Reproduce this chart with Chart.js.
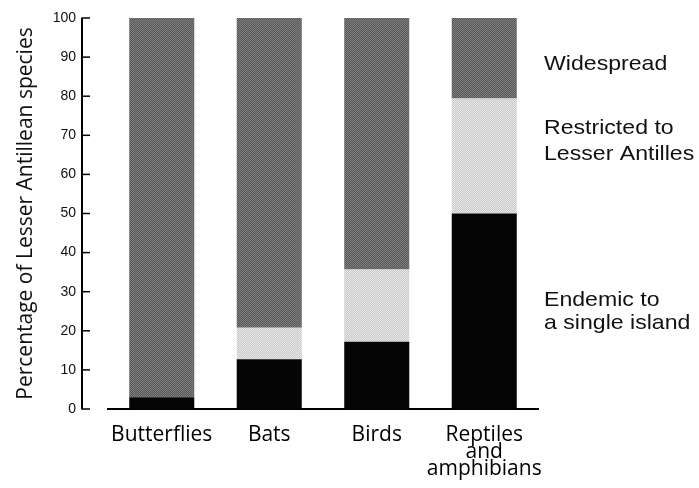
<!DOCTYPE html>
<html>
<head>
<meta charset="utf-8">
<script src="https://cdn.jsdelivr.net/npm/chart.js@4.4.1/dist/chart.umd.min.js"></script>
<style>
  html, body { margin: 0; padding: 0; background: #fff; }
  canvas { display: block; }
</style>
</head>
<body>
<canvas id="chart" width="699" height="488"></canvas>
<script>
// data (percent of species in each group)
const categories = ['Butterflies', 'Bats', 'Birds', ['Reptiles', 'and', 'amphibians']];
const endemic = [3, 12.7, 17.2, 50];
const restricted = [0, 8.1, 18.5, 29.4];
const widespread = [97, 79.2, 64.3, 20.6];
const yTicks = [0, 10, 20, 30, 40, 50, 60, 70, 80, 90, 100];
const sideLabels = [['Widespread'], ['Restricted to', 'Lesser Antilles'], ['Endemic to', 'a single island']];

const canvas = document.getElementById('chart');
const ctx = canvas.getContext('2d');

// small halftone-like pattern, like the scanned shading
function checker(base, dot) {
  const p = document.createElement('canvas');
  p.width = 2; p.height = 2;
  const g = p.getContext('2d');
  g.fillStyle = base; g.fillRect(0, 0, 2, 2);
  g.fillStyle = dot; g.fillRect(0, 0, 1, 1); g.fillRect(1, 1, 1, 1);
  return ctx.createPattern(p, 'repeat');
}

// y axis sits a bit left of the plot, with ticks pointing inwards
const yAxisLine = {
  id: 'yAxisLine',
  afterDraw(chart) {
    const c = chart.ctx;
    const y = chart.scales.y;
    const x0 = chart.chartArea.left - 26;
    c.save();
    c.strokeStyle = '#000';
    c.lineWidth = 2;
    c.beginPath();
    c.moveTo(x0, y.getPixelForValue(100) - 0.5);
    c.lineTo(x0, y.getPixelForValue(0) + 0.5);
    c.stroke();
    c.lineWidth = 1.5;
    yTicks.forEach(v => {
      const py = y.getPixelForValue(v);
      c.beginPath();
      c.moveTo(x0, py);
      c.lineTo(x0 + 8, py);
      c.stroke();
    });
    c.restore();
  }
};

// category names to the right of the last bar
const sideText = {
  id: 'sideText',
  afterDraw(chart) {
    const c = chart.ctx;
    const y = chart.scales.y;
    const anchors = [88.7, 68.9, 25.3];
    const gaps = [0, 26, 22.5];
    const x0 = chart.chartArea.right + 6;
    c.save();
    c.fillStyle = '#111';
    c.font = '21px "Liberation Sans", Arial, sans-serif';
    c.textBaseline = 'alphabetic';
    sideLabels.forEach((lines, i) => {
      const mid = y.getPixelForValue(anchors[i]);
      const first = mid - gaps[i] * (lines.length - 1) / 2 + 7.5;
      lines.forEach((t, j) => {
        c.save();
        c.translate(x0, first + j * gaps[i]);
        c.scale(1.1, 1);
        c.fillText(t, 0, 0);
        c.restore();
      });
    });
    c.restore();
  }
};

new Chart(ctx, {
  type: 'bar',
  data: {
    labels: categories,
    datasets: [
      { label: 'Endemic to a single island', data: endemic, backgroundColor: '#050505' },
      { label: 'Restricted to Lesser Antilles', data: restricted, backgroundColor: checker('#c8c8c8', '#e8e8e8') },
      { label: 'Widespread', data: widespread, backgroundColor: checker('#585858', '#7e7e7e') }
    ]
  },
  options: {
    responsive: false,
    animation: false,
    categoryPercentage: 1,
    barPercentage: 0.605,
    layout: { padding: { top: 18, right: 161, bottom: 0, left: 0 } },
    plugins: {
      legend: { display: false },
      tooltip: { enabled: false }
    },
    scales: {
      x: {
        stacked: true,
        grid: { display: false },
        border: { display: true, color: '#000', width: 2 },
        ticks: {
          color: '#000',
          padding: 10,
          autoSkip: false,
          maxRotation: 0,
          minRotation: 0,
          font: { family: '"Open Sans", sans-serif', size: 21, lineHeight: 0.8 }
        },
        afterFit(s) { s.height = 79; }
      },
      y: {
        stacked: true,
        min: 0,
        max: 100,
        grid: { display: false, drawTicks: false },
        border: { display: false },
        ticks: {
          stepSize: 10,
          color: '#111',
          padding: 32,
          font: { family: '"Liberation Sans", Arial, sans-serif', size: 14 }
        },
        title: {
          display: true,
          text: 'Percentage of Lesser Antillean species',
          color: '#111',
          padding: { top: 13, bottom: 0 },
          font: { family: '"Open Sans", sans-serif', size: 21 }
        },
        afterFit(s) {
          s.width = 108;
          // label padding would otherwise push the plot top down
          s.paddingTop = 8;
          s.paddingBottom = 8;
        }
      }
    }
  },
  plugins: [yAxisLine, sideText]
});
</script>
</body>
</html>
